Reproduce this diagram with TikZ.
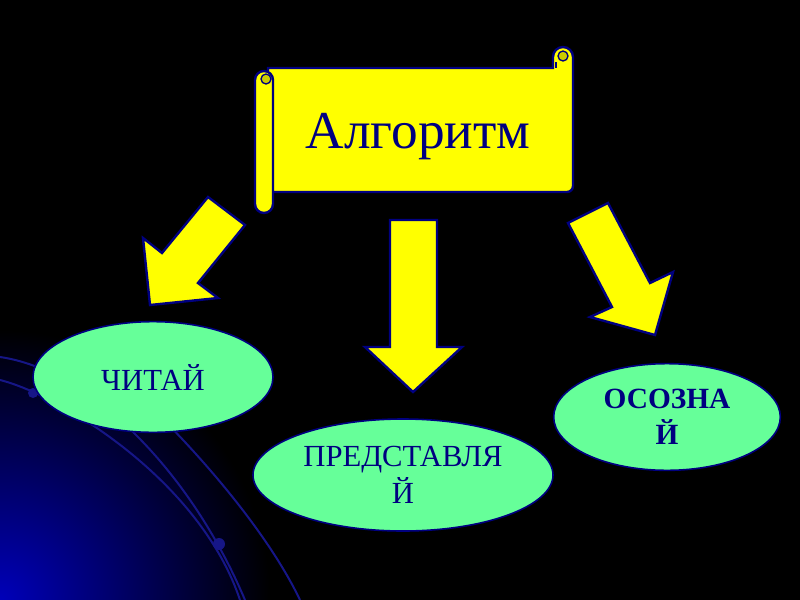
\documentclass[tikz,border=0pt]{standalone}
\usepackage{fontspec}
\setmainfont{Liberation Serif}
\usetikzlibrary{shapes.geometric}
\definecolor{navy}{RGB}{0,0,128}
\definecolor{yel}{RGB}{255,255,0}
\definecolor{mint}{RGB}{102,255,153}
\definecolor{decoblue}{RGB}{22,22,135}
\definecolor{curlcol}{RGB}{204,204,0}
\begin{document}
\begin{tikzpicture}[x=0.75pt,y=-0.75pt,
  blk/.style={fill=yel,draw=navy,line width=1.8pt,line join=miter},
  oval/.style={ellipse,fill=mint,draw=navy,line width=1.2pt,inner sep=0pt,text=navy,align=center},
  decoline/.style={draw=decoblue,line width=1.5pt},
  curlst/.style={fill=curlcol,draw=navy,line width=1pt}]
\useasboundingbox (0,0) rectangle (800,600);
\fill[black] (0,0) rectangle (800,600);
\begin{scope}
  \clip (0,0) rectangle (800,600);
  \shade[inner color={rgb,255:red,0;green,0;blue,185}, outer color=black] (0,600) circle[radius=270];
\end{scope}
% decorative arcs
\draw[decoline] (0,380) .. controls (60,395) and (200,480) .. (240,600);
\draw[decoline] (0,357) .. controls (90,370) and (190,470) .. (245,600);
\draw[decoline] (110,370) .. controls (170,420) and (262,520) .. (300,600);
\fill[decoblue] (33,393) circle[radius=5];
\fill[decoblue] (219,544) circle[radius=6];
% scroll body
\draw[blk] (268,68) -- (553,68) -- (553,57) arc[start angle=180,end angle=360,radius=10]
  -- (573,186) arc[start angle=0,end angle=90,radius=6] -- (268,192) -- cycle;
\draw[curlst] (563,56) circle[radius=5];
\draw[navy,line width=1pt] (556,62) -- (556,68);
% left tube
\draw[blk] (255,80) -- (255,204) arc[start angle=180,end angle=0,radius=9]
  -- (273,80) arc[start angle=0,end angle=-180,radius=9] -- cycle;
\draw[curlst] (266,79) circle[radius=5];
\node[text=navy,font=\fontsize{40}{48}\selectfont,anchor=base,inner sep=0pt] (title) at (418,148) {Алгоритм};
% block arrows
\draw[blk] (208,197) -- (245,225) -- (198,283) -- (218,298) -- (150,305) -- (143,238) -- (162,253) -- cycle;
\draw[blk] (390,220) -- (437,220) -- (437,347) -- (462,347) -- (413,392) -- (365,347) -- (390,347) -- cycle;
\draw[blk] (568,223) -- (608,203) -- (650,283) -- (673,272) -- (655,335) -- (590,317) -- (612,307) -- cycle;
% ellipses
\node[oval,minimum width=180pt,minimum height=83pt,font=\fontsize{23}{28}\selectfont] (read) at (153,377) {ЧИТАЙ};
\node[oval,minimum width=225pt,minimum height=84pt,font=\fontsize{23}{28}\selectfont] (imagine) at (403,475) {ПРЕДСТАВЛЯ\\Й};
\node[oval,minimum width=170pt,minimum height=80pt,font=\fontsize{22}{27}\selectfont\bfseries] (realize) at (667,417) {ОСОЗНА\\Й};
\end{tikzpicture}
\end{document}
